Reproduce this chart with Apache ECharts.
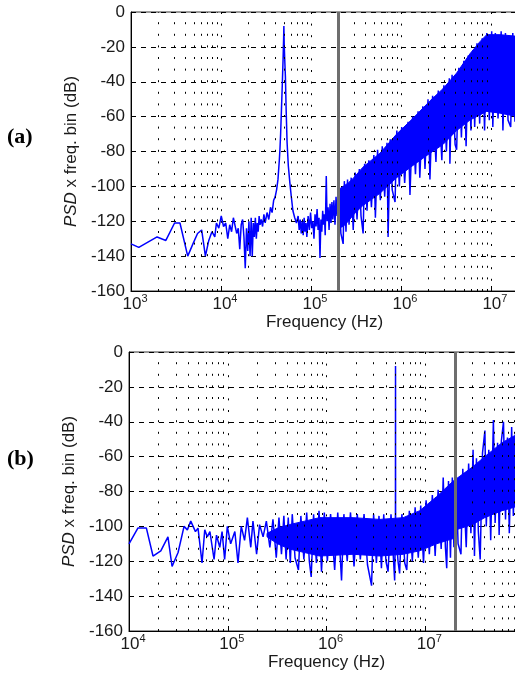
<!DOCTYPE html>
<html><head><meta charset="utf-8">
<script src="https://cdn.jsdelivr.net/npm/echarts@6/dist/echarts.min.js"></script>
<style>html,body{margin:0;padding:0;background:#fff}#c{width:515px;height:679px}</style>
</head><body><div id="c"></div>
<script>
// ---------- Panel (a) ----------
const freqA = [1000,1220,1950,2440,3050,3500,4270,4880,5490,6100,
6710,7320,7930,8540,8900,9460,10070,10680,11290,11900,
12510,13120,13730,14340,14950,15560,16170,16780,17390,18000,
18610,19220,19830,20440,21050,21660,22270,22880,23490,24100,
24710,25320,25930,26540,27150,28000,29000,30000,31000,32500,
34000,35500,37000,38500,40000,41500,43000,44500,45200,46000,
47000,48000,49000,49700,50000,50400,51000,52000,53000,54300,
56000,58300,60500,63000,66000,69000,72000,74000,76000,78000,
80000,82000,84000,86000,88000,90000,93000,96000,99000,102000,
105000,108000,111000,114000,117000,120000,123000,126000,129000,132000,
135000,138000,141000,144000,148000,151000,155000,159000,163000,167000,
171000,175000,180000,185000,190000,195000,200000,
205000,215000,228000,235000,245000,255000,265000,280000,295000,310000,
325000,345000,360000,380000,395000,420000,440000,470000,500000,520000,
550000,590000,620000,660000,700000,720000,760000,800000,860000,900000,
960000,1020000,1100000,1200000,1260000,1350000,1450000,1550000,1620000,1750000,
1850000,2000000,2100000,2250000,2450000,2600000,2850000,3000000,3200000,3450000,
3500000,3700000,4000000,4160000,4400000,4700000,5000000,5300000,5600000,6000000,
6300000,6600000,7000000,7500000,8000000,8500000,9000000,9600000,10200000,10500000,
11200000,12000000,13000000,13600000,14500000,15500000,16600000,17500000,18500000,19500000,
20000000];
const dbA = [-133,-135,-129,-131,-121,-121,-140,-133,-127,-125,
-140,-131,-126,-129,-121,-124,-117,-123,-121,-130,
-122,-126,-118,-119,-127,-124,-136,-122,-119,-129,
-147,-124,-137,-120,-140,-118,-140,-121,-129,-118,
-130,-121,-126,-117,-122,-119,-123,-116,-121,-115,
-119,-112,-115,-108,-106,-102,-96,-85,-79,-70,
-56,-42,-27,-15,-8,-18,-26,-37,-56,-75,
-88,-98,-106,-114,-118,-121,-117,-125,-119,-127,
-120,-128,-118,-126,-121,-129,-117,-125,-115,-124,
-120,-130,-116,-123,-113,-125,-118,-141,-119,-126,
-114,-122,-116,-128,-94,-120,-112,-125,-110,-121,
-109,-119,-108,-122,-106,-117,-104,
-98,-127,-133,-97,-126,-96,-122,-95,-125,-92,
-119,-90,-117,-127,-87,-114,-85,-112,-82,-118,
-79,-108,-77,-106,-75,-129,-73,-102,-109,-68,
-100,-66,-98,-63,-105,-60,-93,-57,-95,-54,
-90,-50,-96,-48,-86,-45,-85,-42,-80,-38,
-87,-36,-76,-79,-32,-72,-28,-77,-25,-68,
-22,-66,-18,-64,-15,-68,-12,-62,-11,-66,
-12,-61,-11,-68,-12,-62,-66,-12,-63,-13,
-40];
const bandFreqA = [200000,228000,260000,300000,378000,584000,896000,1360000,2100000,2930000,4160000,5840000,7550000,9000000,12600000,20000000];
const bandHiA   = [-102,-100,-98,-95,-89,-81,-70,-61,-51,-44,-35,-24,-17,-13,-13,-14];
const bandLoA   = [-124,-123,-120,-116,-111,-104,-95,-88,-81,-76,-68,-62,-59,-57,-58,-60];
const markerA = 200000;

// ---------- Panel (b) ----------
const freqB = [10000,12300,15000,17500,21000,24800,27300,31400,36100,39000,
42200,47100,50000,54900,58500,62000,66000,72700,76900,83000,
87600,93000,99000,107000,118000,127000,137000,148000,158000,171000,
180000,196000,210000,228000,246000,
267000,287000,310000,330000,350000,370000,390000,410000,430000,450000,
480000,520000,550000,590000,630000,670000,700000,740000,790000,840000,
890000,950000,1020000,1100000,1210000,1300000,1420000,1500000,1620000,1750000,
1900000,2050000,2200000,2400000,2600000,2860000,3000000,3200000,3400000,3600000,
3800000,4000000,4200000,4500000,4900000,4990000,5000000,5010000,5300000,5500000,
5800000,6200000,6500000,6900000,7400000,7900000,8500000,9000000,9600000,10200000,
11000000,11800000,12600000,13500000,14500000,15200000,16000000,16500000,17200000,18000000,
18800000,19500000,20500000,21500000,23000000,24000000,26000000,27500000,29000000,30500000,
31500000,33000000,34500000,36000000,38000000,40200000,41500000,44000000,46000000,49000000,
51000000,54000000,56000000,59000000,62000000,65000000,68000000,71000000,75000000,78000000,
82000000,87000000,92000000,96000000,100000000];
const dbB = [-110,-101,-101,-117,-114,-106,-123,-115,-100,-102,
-97,-103,-101,-121,-102,-106,-103,-119,-105,-112,
-103,-119,-100,-110,-103,-121,-100,-108,-95,-112,
-97,-116,-99,-106,-97,
-112,-96,-118,-95,-116,-94,-119,-95,-121,-93,
-118,-125,-94,-119,-92,-120,-129,-93,-121,-91,
-126,-92,-120,-93,-125,-92,-131,-93,-120,-92,
-123,-93,-119,-93,-122,-134,-93,-121,-94,-124,
-93,-120,-126,-93,-131,-100,-8,-100,-120,-127,
-93,-121,-125,-91,-120,-89,-118,-88,-121,-85,
-116,-82,-117,-79,-113,-72,-112,-124,-74,-118,
-72,-112,-70,-110,-116,-67,-112,-64,-104,-56,
-117,-61,-103,-119,-58,-45,-100,-56,-108,-39,
-98,-52,-105,-51,-40,-96,-49,-104,-43,-94,
-46,-97,-45,-92,-46];
const bandFreqB = [250000,320000,420000,600000,850000,1860000,3470000,5970000,8800000,13000000,19200000,20300000,30000000,40000000,60000000,80000000,100000000];
const bandHiB   = [-104,-101,-99,-97,-95,-95,-96,-95,-91,-83,-74,-73,-66,-60,-52,-48,-47];
const bandLoB   = [-106,-110,-113,-115,-117,-116,-117,-116,-114,-110,-107,-102,-99,-95,-91,-89,-88];
const markerB = 20000000;

const yTicks = [-160,-140,-120,-100,-80,-60,-40,-20,0];

const FONT = '"Liberation Sans", Arial, Helvetica, sans-serif';
const TXT = '#1a1a1a';

function minorList(n0, n1, maxV){
  const out = [];
  for (let n = n0; n <= n1; n++) for (let k = 2; k <= 9; k++) { const v = k * Math.pow(10, n); if (v < maxV) out.push(v); }
  return out;
}
function pow10Label(v){
  const l = Math.log10(v), n = Math.round(l);
  if (Math.abs(l - n) > 1e-6) return '';
  return '{b|10}{e|' + n + '}';
}
function xAxisCfg(gi, min, max){
  return { type:'log', logBase:10, gridIndex:gi, min:min, max:max,
    axisLine:{show:true, onZero:false, lineStyle:{color:'#000', width:1}},
    axisTick:{show:true, inside:true, length:5, lineStyle:{color:'#000'}},
    axisLabel:{formatter:pow10Label, margin:2, padding:[0,0,0,8], showMinLabel:true, hideOverlap:false,
      rich:{ b:{fontSize:17, fontFamily:FONT, color:TXT, lineHeight:20, verticalAlign:'bottom'},
             e:{fontSize:11, fontFamily:FONT, color:TXT, lineHeight:12, verticalAlign:'top'} }},
    splitLine:{show:true, lineStyle:{color:'#000', width:1, type:[2,9.6]}},
    name:'Frequency (Hz)', nameLocation:'middle', nameGap:22,
    nameTextStyle:{fontSize:17, fontFamily:FONT, color:TXT} };
}
function yAxisCfg(gi){
  return { type:'value', gridIndex:gi, min:yTicks[0], max:yTicks[yTicks.length-1], interval:20,
    axisLine:{show:true, onZero:false, lineStyle:{color:'#000', width:1}},
    axisTick:{show:true, inside:true, length:5, lineStyle:{color:'#000'}},
    axisLabel:{fontSize:17, fontFamily:FONT, color:TXT, margin:6},
    splitLine:{show:true, lineStyle:{color:'#000', width:1, type:[5,5]}},
    name:'{i|PSD}{n| x freq. bin (dB)}', nameLocation:'middle', nameGap:48,
    nameTextStyle:{fontSize:17, fontFamily:FONT, color:TXT,
      rich:{ i:{fontStyle:'italic', fontSize:17, fontFamily:FONT, color:TXT},
             n:{fontSize:17, fontFamily:FONT, color:TXT} }} };
}
function minorSeries(gi, vals){
  return { type:'line', xAxisIndex:gi, yAxisIndex:gi, data:[], z:1, silent:true,
    markLine:{ silent:true, symbol:['none','none'], animation:false, label:{show:false},
      lineStyle:{color:'#000', width:1, type:[2,9.6]},
      data: vals.map(v => ({xAxis:v})) } };
}
function bandSeries(gi, fr, hi, lo){
  return { type:'custom', xAxisIndex:gi, yAxisIndex:gi, z:3, silent:true, animation:false,
    data: fr.map((f,i) => [f, hi[i], lo[i]]),
    encode:{x:0, y:[1,2]},
    renderItem: function(params, api){
      if (params.dataIndex !== 0) return null;
      const pts = [];
      for (let i = 0; i < fr.length; i++) pts.push(api.coord([fr[i], hi[i]]));
      for (let i = fr.length - 1; i >= 0; i--) pts.push(api.coord([fr[i], lo[i]]));
      return { type:'polygon', shape:{points:pts}, style:{fill:'#0000ff', stroke:'#0000ff', lineWidth:1} };
    } };
}
function lineSeries(gi, fr, db){
  return { type:'line', xAxisIndex:gi, yAxisIndex:gi, z:4, symbol:'none', showSymbol:false,
    clip:true, silent:true, animation:false,
    lineStyle:{color:'#0000ff', width:1.5},
    data: fr.map((f,i) => [f, db[i]]) };
}
function markerSeries(gi, v){
  return { type:'line', xAxisIndex:gi, yAxisIndex:gi, data:[], z:6, silent:true,
    markLine:{ silent:true, symbol:['none','none'], animation:false, label:{show:false},
      lineStyle:{color:'#6e6e6e', width:3, type:'solid'}, data:[{xAxis:v}] } };
}

const chart = echarts.init(document.getElementById('c'), null, {renderer:'canvas'});
chart.setOption({
  animation:false,
  backgroundColor:'#fff',
  grid:[
    {left:131, top:12, width:387, height:279, containLabel:false, outerBoundsMode:'none', show:true, borderColor:'#333', borderWidth:1, backgroundColor:'rgba(0,0,0,0)'},
    {left:129, top:352, width:395, height:279, containLabel:false, outerBoundsMode:'none', show:true, borderColor:'#333', borderWidth:1, backgroundColor:'rgba(0,0,0,0)'}
  ],
  xAxis:[ xAxisCfg(0, 1000, 20000000), xAxisCfg(1, 10000, 100000000) ],
  yAxis:[ yAxisCfg(0), yAxisCfg(1) ],
  graphic:[
    {type:'text', left:7, top:126, style:{text:'(a)', font:'bold 22px "Liberation Serif", "Times New Roman", serif', fill:'#000'}},
    {type:'text', left:7, top:448, style:{text:'(b)', font:'bold 22px "Liberation Serif", "Times New Roman", serif', fill:'#000'}}
  ],
  series:[
    minorSeries(0, minorList(3, 7, 20000000)),
    minorSeries(1, minorList(4, 7, 100000000)),
    bandSeries(0, bandFreqA, bandHiA, bandLoA),
    bandSeries(1, bandFreqB, bandHiB, bandLoB),
    lineSeries(0, freqA, dbA),
    lineSeries(1, freqB, dbB),
    markerSeries(0, markerA),
    markerSeries(1, markerB)
  ]
});
</script>
</body></html>
